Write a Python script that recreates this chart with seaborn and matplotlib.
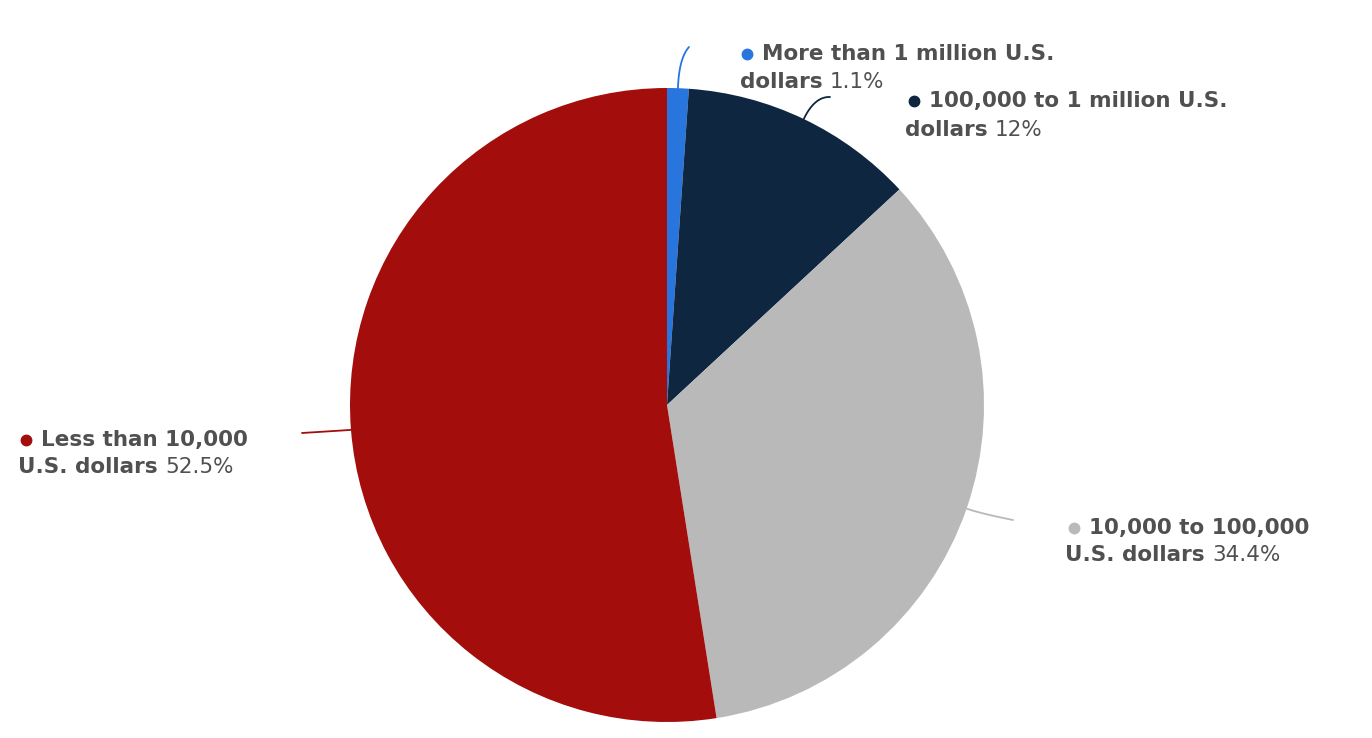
import numpy as np
import matplotlib
matplotlib.use("Agg")
import matplotlib.pyplot as plt
import seaborn as sns

# data
labels = ["More than 1 million U.S.\ndollars", "100,000 to 1 million U.S.\ndollars",
          "10,000 to 100,000\nU.S. dollars", "Less than 10,000\nU.S. dollars"]
shares = [1.1, 12, 34.4, 52.5]
pct_text = ["1.1%", "12%", "34.4%", "52.5%"]
colors = ["#2876dd", "#0f2640", "#b9b9b9", "#a30d0b"]

sns.set_theme(style="white")
plt.rcParams['font.family'] = ['DejaVu Sans']

W, H = 1372, 738
fig = plt.figure(figsize=(W / 100, H / 100), dpi=100)
ax = fig.add_axes([0, 0, 1, 1])

def py(y):
    return H - y

cx, cy, r = 667, py(405), 317
ax.pie(shares, colors=colors, startangle=90, counterclock=False,
       center=(cx, cy), radius=r, frame=True,
       wedgeprops=dict(linewidth=0))
ax.set_xlim(0, W)
ax.set_ylim(0, H)
ax.axis('off')

# label placement (dot x, first line y / second line x, y in px), connector end points
lab_pos = [(747, 54), (914, 101), (1074, 528), (26, 440)]
line_x = [(740, 82), (905, 130), (1065, 555), (18, 467)]
conn_end = [(689, 47), (830, 97), (1013, 520), (302, 433)]
bend = [30, 25, 15, 5]

text_color = "#505050"
fs = 15.5
cum = np.cumsum([0] + shares[:-1])
tt = np.linspace(0, 1, 40)
for i in range(len(shares)):
    mid = np.deg2rad(90 - (cum[i] + shares[i] / 2) * 3.6)
    ex, ey = cx + r * np.cos(mid), cy + r * np.sin(mid)
    tx, ty = conn_end[i][0], py(conn_end[i][1])
    bx, by = ex + np.cos(mid) * bend[i], ey + np.sin(mid) * bend[i]
    xs = (1 - tt) ** 2 * ex + 2 * (1 - tt) * tt * bx + tt ** 2 * tx
    ys = (1 - tt) ** 2 * ey + 2 * (1 - tt) * tt * by + tt ** 2 * ty
    ax.plot(xs, ys, color=colors[i], lw=1.3, solid_capstyle='round')

    first, second = labels[i].split("\n")
    dx, dy = lab_pos[i]
    ax.plot(dx, py(dy), 'o', color=colors[i], markersize=7.5)
    ax.text(dx + 15, py(dy), first, fontsize=fs, fontweight='bold', color=text_color,
            va='center', ha='left')
    lx, ly = line_x[i]
    t = ax.text(lx, py(ly), second + " ", fontsize=fs, fontweight='bold', color=text_color,
                va='center', ha='left')
    ax.annotate(pct_text[i], xy=(1, 0), xycoords=t, fontsize=fs, color=text_color,
                va='bottom', ha='left')

fig.savefig("out.png", dpi=100, facecolor='white')
